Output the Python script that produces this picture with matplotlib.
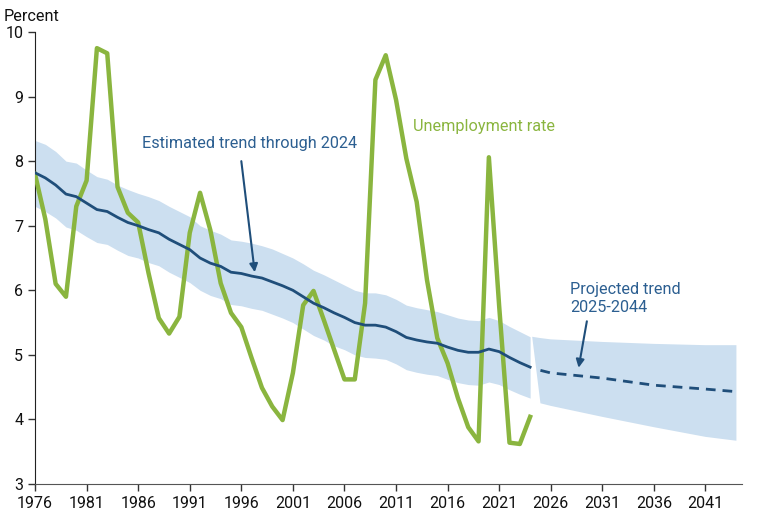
import matplotlib
matplotlib.use("Agg")
import matplotlib.pyplot as plt

plt.rcParams["font.family"] = ["Roboto", "DejaVu Sans"]

# Annual unemployment rate (percent)
years = list(range(1976, 2025))
unemployment = [
    7.8, 7.1, 6.1, 5.9, 7.3, 7.7, 9.75, 9.67, 7.6, 7.2,
    7.05, 6.27, 5.57, 5.33, 5.59, 6.89, 7.51, 6.93, 6.11, 5.65,
    5.43, 4.95, 4.49, 4.2, 3.99, 4.72, 5.77, 5.99, 5.54, 5.08,
    4.62, 4.62, 5.8, 9.26, 9.64, 8.95, 8.04, 7.37, 6.16, 5.26,
    4.87, 4.33, 3.88, 3.66, 8.06, 5.75, 3.64, 3.62, 4.04,
]

# Estimated trend through 2024 with band
trend = [
    7.82, 7.74, 7.63, 7.49, 7.45, 7.35, 7.25, 7.22, 7.13, 7.05,
    7.0, 6.94, 6.89, 6.79, 6.71, 6.63, 6.5, 6.42, 6.37, 6.28,
    6.26, 6.22, 6.19, 6.13, 6.07, 6.0, 5.9, 5.8, 5.73, 5.65,
    5.58, 5.5, 5.46, 5.46, 5.43, 5.36, 5.27, 5.23, 5.2, 5.18,
    5.12, 5.07, 5.04, 5.04, 5.09, 5.05, 4.96, 4.88, 4.81,
]
trend_upper = [
    8.32, 8.26, 8.15, 8.0, 7.97, 7.86, 7.76, 7.72, 7.63, 7.56,
    7.5, 7.45, 7.39, 7.3, 7.22, 7.14, 7.0, 6.93, 6.87, 6.78,
    6.76, 6.73, 6.69, 6.64, 6.57, 6.5, 6.41, 6.31, 6.24, 6.16,
    6.08, 6.0, 5.96, 5.96, 5.93, 5.86, 5.77, 5.73, 5.7, 5.67,
    5.62, 5.57, 5.54, 5.53, 5.58, 5.53, 5.44, 5.36, 5.28,
]
trend_lower = [
    7.3, 7.22, 7.12, 6.98, 6.93, 6.83, 6.74, 6.71, 6.62, 6.54,
    6.5, 6.43, 6.38, 6.28, 6.2, 6.12, 6.0, 5.92, 5.87, 5.78,
    5.76, 5.72, 5.69, 5.63, 5.57, 5.5, 5.4, 5.3, 5.23, 5.14,
    5.08, 5.0, 4.96, 4.95, 4.93, 4.86, 4.77, 4.73, 4.7, 4.68,
    4.62, 4.57, 4.54, 4.53, 4.58, 4.54, 4.46, 4.39, 4.33,
]

# Projected trend 2025-2044 with band
proj_years = [2025, 2026, 2031, 2036, 2041, 2044]
proj_trend = [4.76, 4.72, 4.64, 4.53, 4.47, 4.43]
proj_upper = [5.26, 5.24, 5.2, 5.17, 5.15, 5.15]
proj_lower = [4.25, 4.21, 4.04, 3.88, 3.73, 3.67]
proj_band_start = [2024.2, 5.28]

green = "#8AB53F"
navy = "#1F4E7A"
text_blue = "#2C5F91"
band = "#CCDFF0"

fig = plt.figure(figsize=(7.68, 5.16), dpi=100)
ax = fig.add_axes([0.0456, 0.062, 0.92, 0.876])

ax.fill_between(years, trend_lower, trend_upper, color=band, linewidth=0, zorder=1)
poly_x = [proj_band_start[0]] + proj_years + proj_years[::-1]
poly_y = [proj_band_start[1]] + proj_upper + proj_lower[::-1]
ax.fill(poly_x, poly_y, color=band, linewidth=0, zorder=1)

ax.plot(years, unemployment, color=green, linewidth=3.2, zorder=3)
ax.plot(years, trend, color=navy, linewidth=2, zorder=4)
ax.plot(proj_years, proj_trend, color=navy, linewidth=2, linestyle=(0, (3.5, 2.5)), zorder=4)

ax.set_xlim(1976, 2044.5)
ax.set_ylim(3, 10)
ax.set_xticks(range(1976, 2042, 5))
ax.set_yticks(range(3, 11))
ax.tick_params(axis="both", labelsize=11.5, length=5, width=1, color="#333333",
               labelcolor="#111111")
for side in ("top", "right"):
    ax.spines[side].set_visible(False)
ax.spines["left"].set_color("#222222")
ax.spines["bottom"].set_color("#555555")

fig.text(0.005, 0.968, "Percent", fontsize=11.7, color="#111111", va="center")

ax.text(1986.4, 8.28, "Estimated trend through 2024", color=text_blue, fontsize=11.7,
        va="center")
ax.annotate("", xy=(1997.3, 6.28), xytext=(1996.0, 8.0),
            arrowprops=dict(arrowstyle="-|>", color=navy, lw=1.5, mutation_scale=12,
                            shrinkA=0, shrinkB=0))

ax.text(2012.6, 8.53, "Unemployment rate", color=green, fontsize=11.7, va="center")

ax.text(2027.9, 5.87, "Projected trend\n2025-2044", color=text_blue, fontsize=11.7,
        va="center", linespacing=1.2)
ax.annotate("", xy=(2028.7, 4.8), xytext=(2029.5, 5.52),
            arrowprops=dict(arrowstyle="-|>", color=navy, lw=1.5, mutation_scale=12,
                            shrinkA=0, shrinkB=0))

fig.savefig("out.png", dpi=100)
